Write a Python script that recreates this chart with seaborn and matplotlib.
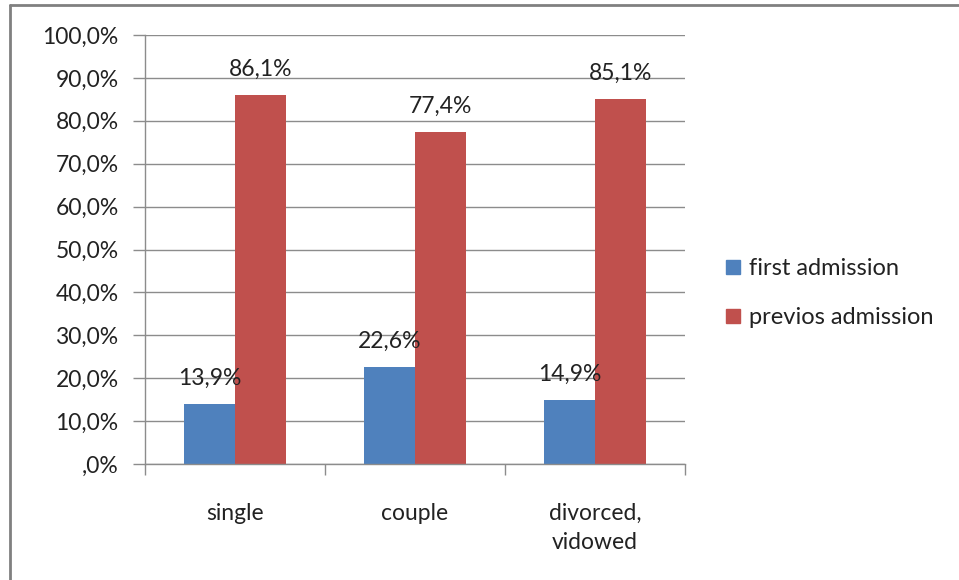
import matplotlib
matplotlib.use("Agg")
import matplotlib.pyplot as plt
import seaborn as sns
import pandas as pd
from matplotlib.lines import Line2D
from matplotlib.ticker import FixedLocator

# Data
CATEGORIES = ['single', 'couple', 'divorced,\nvidowed']
SERIES = ['first admission', 'previos admission']
FIRST = [13.9, 22.6, 14.9]
PREVIOUS = [86.1, 77.4, 85.1]
Y_TICKS = [0, 10, 20, 30, 40, 50, 60, 70, 80, 90, 100]
Y_LABELS = [',0%', '10,0%', '20,0%', '30,0%', '40,0%', '50,0%',
            '60,0%', '70,0%', '80,0%', '90,0%', '100,0%']

COLORS = ['#4F81BD', '#C0504D']
GRID = '#8C8C8C'
FS = 16.5


def build_frame():
    rows = []
    for cat, v in zip(CATEGORIES, FIRST):
        rows.append({'status': cat, 'admission': SERIES[0], 'pct': v})
    for cat, v in zip(CATEGORIES, PREVIOUS):
        rows.append({'status': cat, 'admission': SERIES[1], 'pct': v})
    return pd.DataFrame(rows)


def main():
    sns.set_theme(style="white")
    plt.rcParams['font.family'] = ['Lato', 'DejaVu Sans']
    df = build_frame()

    fig = plt.figure(figsize=(9.59, 5.80), dpi=100)
    ax = fig.add_axes([145 / 959, 1 - 464 / 580, (685 - 145) / 959, (464 - 35) / 580])

    sns.barplot(data=df, x='status', y='pct', hue='admission', hue_order=SERIES,
                order=CATEGORIES, palette=COLORS, width=0.57, saturation=1,
                edgecolor='none', linewidth=0, ax=ax)

    ax.set_ylim(0, 100)
    ax.set_xlim(-0.5, len(CATEGORIES) - 0.5)
    ax.set_yticks(Y_TICKS)
    ax.set_yticklabels(Y_LABELS)
    ax.yaxis.grid(True, color=GRID, linewidth=1)
    ax.set_axisbelow(True)
    ax.set_xlabel('')
    ax.set_ylabel('')

    for side in ['top', 'right']:
        ax.spines[side].set_visible(False)
    for side in ['left', 'bottom']:
        ax.spines[side].set_color(GRID)
        ax.spines[side].set_linewidth(1)

    ax.tick_params(axis='y', which='major', left=True, length=9, width=1,
                   color=GRID, labelsize=FS, pad=10, labelcolor='#222222')
    ax.tick_params(axis='x', which='major', bottom=False, labelsize=FS,
                   pad=22, labelcolor='#222222')
    for lab in ax.get_xticklabels():
        lab.set_linespacing(1.45)
    ax.xaxis.set_minor_locator(FixedLocator([-0.5, 0.5, 1.5, 2.5]))
    ax.tick_params(axis='x', which='minor', bottom=True, length=8, width=1,
                   color=GRID)

    # value labels above bars
    for container in ax.containers:
        labels = [f'{b.get_height():.1f}%'.replace('.', ',') for b in container]
        ax.bar_label(container, labels=labels, padding=11, fontsize=FS,
                     color='#222222')

    # legend
    ax.legend_.remove()
    handles = [Line2D([0], [0], marker='s', linestyle='none', markersize=10,
                      markerfacecolor=c, markeredgecolor=c) for c in COLORS]
    fig.legend(handles, SERIES, loc='center left', bbox_to_anchor=(698 / 959, 1 - 293 / 580),
               frameon=False, fontsize=17, labelspacing=1.2, handletextpad=0.05,
               handlelength=1.2, labelcolor='#222222')

    # outer chart frame (top and left edges visible)
    fig.add_artist(Line2D([10 / 959, 10 / 959], [0, 1 - 5 / 580], color='#808080',
                          linewidth=2, transform=fig.transFigure))
    fig.add_artist(Line2D([10 / 959, 1], [1 - 5 / 580, 1 - 5 / 580], color='#808080',
                          linewidth=2, transform=fig.transFigure))

    fig.savefig('out.png', dpi=100, facecolor='white')


if __name__ == "__main__":
    main()
